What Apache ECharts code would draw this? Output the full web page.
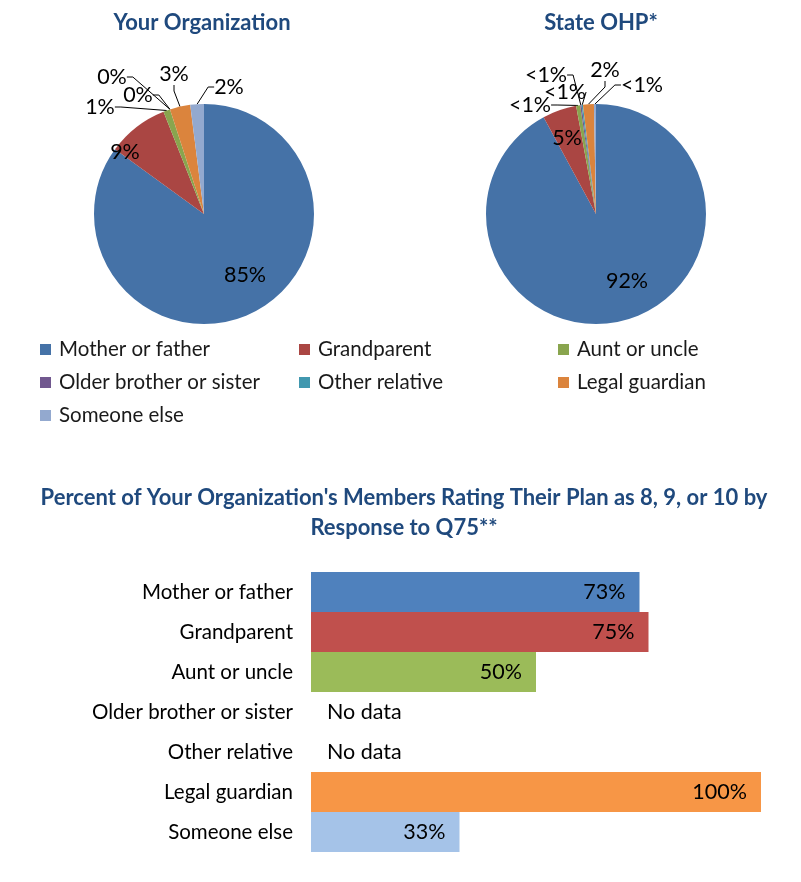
<!DOCTYPE html>
<html>
<head>
<meta charset="utf-8">
<script src="https://cdn.jsdelivr.net/npm/echarts@6/dist/echarts.min.js"></script>
<style>
  html, body { margin: 0; padding: 0; background: #fff; }
  #chart { width: 801px; height: 882px; }
</style>
</head>
<body>
<div id="chart"></div>
<script>
// Relationship of the person answering to the member (Q75)
const categories = ['Mother or father', 'Grandparent', 'Aunt or uncle', 'Older brother or sister', 'Other relative', 'Legal guardian', 'Someone else'];
// Share of respondents, percent
const orgShare = [85, 9, 1, 0, 0, 3, 2];
const stateShare = [92.1, 5.0, 0.6, 0.2, 0.2, 1.6, 0.3];
// Percent rating their plan 8, 9 or 10; null = no data
const ratingPct = [73, 75, 50, null, null, 100, 33];

const pieColors = ['#4572A7', '#AA4643', '#89A54E', '#71588F', '#4198AF', '#DB843D', '#93A9CF'];
const barColors = ['#4F81BD', '#C0504D', '#9BBB59', '#8064A2', '#4BACC6', '#F79646', '#A5C3E8'];

const FONT = 'Lato';
const TITLE_COLOR = '#1F497D';
const TEXT_SIZE = 20.5;
const VALUE_SIZE = 21.5;
const TITLE_SIZE = 22;

// Pie geometry and label placement (offsets from each pie's centre)
const orgCenter = [204, 214];
const stateCenter = [596, 214];
const pieRadius = 110;
const orgLabelOffsets = [[41, 61], [-79, -62], [-104, -107], [-92, -137], [-66, -119], [-30, -140], [25, -127]];
const stateLabelOffsets = [[31, 67], [-29, -76], [-66, -109], [-50, -139], [-31, -122], [9, -144], [46, -129]];

function pctLabel(v) {
  if (v > 0 && v < 1) return '<1%';
  return Math.round(v) + '%';
}

function pieSeries(name, values, center, offsets) {
  return {
    name: name,
    type: 'pie',
    center: center,
    radius: pieRadius,
    startAngle: 90,
    clockwise: true,
    avoidLabelOverlap: false,
    animation: false,
    itemStyle: { borderWidth: 0 },
    emphasis: { disabled: true },
    label: {
      show: true,
      position: 'outside',
      fontFamily: FONT,
      fontSize: VALUE_SIZE,
      color: '#000',
      formatter: p => pctLabel(p.value)
    },
    labelLine: {
      show: true,
      length: 6,
      length2: 6,
      smooth: false,
      lineStyle: { color: '#000', width: 1 }
    },
    labelLayout: function (params) {
      const off = offsets[params.dataIndex];
      return { x: center[0] + off[0], y: center[1] + off[1], align: 'center', verticalAlign: 'middle' };
    },
    data: categories.map((c, i) => ({
      name: c,
      value: values[i],
      itemStyle: { color: pieColors[i] },
      labelLine: { show: values[i] < 5 }
    }))
  };
}

const chart = echarts.init(document.getElementById('chart'), null, { renderer: 'canvas' });

chart.setOption({
  backgroundColor: '#fff',
  animation: false,
  title: [
    {
      text: 'Your Organization',
      left: 197, top: 7, textAlign: 'center',
      textStyle: { fontFamily: FONT, fontWeight: 'bold', fontSize: TITLE_SIZE, color: TITLE_COLOR }
    },
    {
      text: 'State OHP*',
      left: 596, top: 7, textAlign: 'center',
      textStyle: { fontFamily: FONT, fontWeight: 'bold', fontSize: TITLE_SIZE, color: TITLE_COLOR }
    },
    {
      text: "Percent of Your Organization's Members Rating Their Plan as 8, 9, or 10 by\nResponse to Q75**",
      left: 399, top: 478, textAlign: 'center',
      textStyle: { fontFamily: FONT, fontWeight: 'bold', fontSize: TITLE_SIZE, lineHeight: 30, color: TITLE_COLOR }
    }
  ],
  legend: {
    data: categories,
    left: 40,
    top: 333,
    width: 780,
    padding: 0,
    itemGap: 0,
    itemWidth: 11,
    itemHeight: 11,
    icon: 'rect',
    selectedMode: false,
    textStyle: {
      fontFamily: FONT,
      fontSize: TEXT_SIZE,
      color: '#1a1a1a',
      width: 240,
      height: 33,
      lineHeight: 33,
      padding: [0, 0, 0, 3]
    }
  },
  grid: { left: 311, top: 572, width: 450, height: 280, containLabel: false },
  xAxis: {
    type: 'value', min: 0, max: 100, show: false
  },
  yAxis: {
    type: 'category',
    data: categories,
    inverse: true,
    axisLine: { show: false },
    axisTick: { show: false },
    splitLine: { show: false },
    axisLabel: { fontFamily: FONT, fontSize: TEXT_SIZE, color: '#000', margin: 18 }
  },
  series: [
    pieSeries('Your Organization', orgShare, orgCenter, orgLabelOffsets),
    pieSeries('State OHP', stateShare, stateCenter, stateLabelOffsets),
    {
      name: 'Rating 8, 9, or 10',
      type: 'bar',
      barCategoryGap: 0,
      animation: false,
      emphasis: { disabled: true },
      label: {
        show: true,
        position: 'insideRight',
        distance: 14,
        fontFamily: FONT,
        fontSize: VALUE_SIZE,
        color: '#000',
        formatter: p => p.value + '%'
      },
      data: ratingPct.map((v, i) => v === null
        ? { value: 0, itemStyle: { color: barColors[i] }, label: { position: 'right', distance: 16, formatter: 'No data' } }
        : { value: v, itemStyle: { color: barColors[i] } })
    }
  ]
});
</script>
</body>
</html>
